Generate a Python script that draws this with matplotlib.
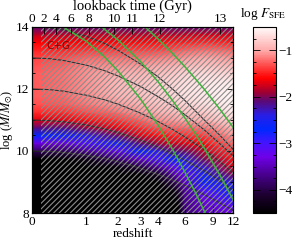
import numpy as np
import matplotlib
matplotlib.use('Agg')
import matplotlib.pyplot as plt
from matplotlib.colors import LinearSegmentedColormap
from matplotlib.patches import Rectangle
from matplotlib.ticker import MultipleLocator, NullLocator

plt.rcParams['font.family'] = 'Liberation Serif'
plt.rcParams['mathtext.fontset'] = 'stix'
plt.rcParams['font.size'] = 9.5
plt.rcParams['hatch.linewidth'] = 0.8

# grid of log F_SFE: one column per redshift, rows logM 8 -> 14
z_nodes = [0, 0.5, 1, 2, 3, 4, 5, 5.5, 6, 8, 12]
logm_nodes = [8.0, 8.25, 8.5, 8.75, 9.0, 9.25, 9.5, 9.75, 10.0, 10.25, 10.5, 10.75,
              11.0, 11.25, 11.5, 11.75, 12.0, 12.25, 12.5, 12.75, 13.0, 13.25, 13.5, 13.75, 14.0]

sfe_z0 = [-4.5, -4.5, -4.5, -4.5, -4.5, -4.5, -4.5, -4.5, -3.9, -3.3, -2.7, -2.1,
          -1.7, -1.45, -1.32, -1.28, -1.28, -1.28, -1.28, -1.3, -1.35, -1.47, -1.6, -1.8, -2.1]
sfe_z05 = [-4.5, -4.5, -4.5, -4.5, -4.5, -4.5, -4.5, -4.5, -3.95, -3.35, -2.75, -2.15,
           -1.7, -1.43, -1.27, -1.22, -1.2, -1.2, -1.2, -1.24, -1.32, -1.46, -1.6, -1.8, -2.1]
sfe_z1 = [-4.5, -4.5, -4.5, -4.5, -4.5, -4.5, -4.5, -4.35, -3.65, -3.05, -2.45, -1.95,
          -1.55, -1.32, -1.18, -1.12, -1.08, -1.08, -1.08, -1.12, -1.22, -1.4, -1.6, -1.8, -2.1]
sfe_z2 = [-4.5, -4.5, -4.5, -4.5, -4.5, -4.5, -4.4, -3.8, -3.2, -2.6, -2.05, -1.65,
          -1.4, -1.2, -1.05, -0.95, -0.92, -0.92, -0.98, -1.08, -1.2, -1.38, -1.58, -1.8, -2.1]
sfe_z3 = [-4.5, -4.5, -4.5, -4.5, -4.5, -4.5, -4.0, -3.35, -2.7, -2.1, -1.7, -1.45,
          -1.25, -1.05, -0.95, -0.88, -0.85, -0.87, -0.93, -1.05, -1.2, -1.37, -1.57, -1.8, -2.1]
sfe_z4 = [-4.5, -4.5, -4.5, -4.5, -4.5, -4.2, -3.6, -3.0, -2.4, -1.9, -1.55, -1.3,
          -1.1, -0.95, -0.85, -0.78, -0.76, -0.78, -0.88, -1.0, -1.15, -1.35, -1.55, -1.8, -2.1]
sfe_z5 = [-4.5, -4.5, -4.5, -4.4, -4.0, -3.6, -3.2, -2.7, -2.15, -1.75, -1.5, -1.25,
          -1.05, -0.9, -0.8, -0.74, -0.72, -0.75, -0.82, -0.95, -1.1, -1.3, -1.52, -1.8, -2.1]
sfe_z55 = [-4.5, -4.45, -4.3, -4.05, -3.75, -3.4, -3.0, -2.55, -2.1, -1.72, -1.47, -1.24,
           -1.02, -0.87, -0.77, -0.7, -0.68, -0.71, -0.78, -0.92, -1.08, -1.28, -1.51, -1.8, -2.1]
sfe_z6 = [-3.8, -3.75, -3.7, -3.6, -3.45, -3.2, -2.85, -2.45, -2.05, -1.7, -1.45, -1.22,
          -1.0, -0.85, -0.74, -0.67, -0.65, -0.68, -0.75, -0.9, -1.05, -1.25, -1.5, -1.78, -2.1]
sfe_z8 = [-3.5, -3.4, -3.25, -3.0, -2.75, -2.55, -2.3, -2.0, -1.78, -1.58, -1.38, -1.18,
          -0.95, -0.8, -0.68, -0.61, -0.6, -0.62, -0.7, -0.85, -1.0, -1.2, -1.45, -1.75, -2.1]
sfe_z12 = [-3.3, -3.1, -2.85, -2.6, -2.35, -2.0, -1.7, -1.55, -1.4, -1.2, -1.05, -0.9,
           -0.75, -0.62, -0.55, -0.52, -0.55, -0.62, -0.75, -0.9, -1.05, -1.25, -1.5, -1.75, -2.1]

# halo growth tracks (black)
track_z = [0, 0.25, 0.5, 1, 1.5, 2, 3, 4, 5, 6, 8, 10, 12]
track_14 = [14.0, 13.97, 13.9, 13.7, 13.48, 13.25, 12.8, 12.39, 12.0, 11.64, 11.0, 10.5, 10.05]
track_13 = [13.0, 12.98, 12.92, 12.77, 12.6, 12.42, 12.08, 11.75, 11.46, 11.18, 10.68, 10.23, 9.84]
track_12 = [12.0, 11.98, 11.93, 11.8, 11.66, 11.51, 11.22, 10.95, 10.7, 10.46, 10.04, 9.65, 9.28]
track_11 = [11.0, 10.98, 10.94, 10.84, 10.72, 10.59, 10.35, 10.12, 9.91, 9.71, 9.36, 9.04, 8.72]
track_10 = [10.0, 9.99, 9.95, 9.86, 9.76, 9.65, 9.44, 9.24, 9.06, 8.89, 8.59, 8.32, 8.08]

# green curves
green1_z = [0.49, 1, 1.5, 2, 3, 4, 5, 6, 7, 8.1]
green1_m = [14.0, 13.54, 13.06, 12.58, 11.67, 10.83, 10.05, 9.34, 8.68, 8.0]
green2_z = [1.43, 2, 3, 4, 5, 6, 7, 8, 10, 12]
green2_m = [14.0, 13.58, 12.88, 12.23, 11.63, 11.08, 10.57, 10.09, 9.21, 8.43]
green3_z = [3.23, 4, 5, 6, 7, 8, 10, 12]
green3_m = [14.0, 13.61, 13.15, 12.73, 12.34, 11.99, 11.34, 10.76]

z_ticks = [0, 1, 2, 3, 4, 6, 9, 12]
lookback_ticks = [0, 2, 4, 6, 8, 10, 11, 12, 13]


def fwd(z):
    return np.log10(1 + np.clip(z, -0.999, None))


def inv(x):
    return 10 ** np.asarray(x) - 1


# lookback time, H0 = 70, Om = 0.3, OL = 0.7
zz = np.linspace(0, 40, 8001)
integrand = 1 / ((1 + zz) * np.sqrt(0.3 * (1 + zz) ** 3 + 0.7))
tl = 977.8 / 70 * np.concatenate([[0], np.cumsum(0.5 * (integrand[1:] + integrand[:-1]) * np.diff(zz))])
lookback_z = np.interp(lookback_ticks, tl, zz)

cmap = LinearSegmentedColormap.from_list('sfe', [
    (0.0, (0, 0, 0)),
    (0.1, (30 / 255, 0, 50 / 255)),
    (0.225, (80 / 255, 0, 160 / 255)),
    (0.3, (110 / 255, 0, 230 / 255)),
    (0.375, (70 / 255, 20 / 255, 1)),
    (0.45, (0, 40 / 255, 1)),
    (0.525, (40 / 255, 30 / 255, 230 / 255)),
    (0.6, (90 / 255, 10 / 255, 120 / 255)),
    (0.65, (160 / 255, 0, 50 / 255)),
    (0.725, (1, 0, 0)),
    (0.8, (1, 80 / 255, 80 / 255)),
    (0.875, (1, 170 / 255, 170 / 255)),
    (1.0, (1, 250 / 255, 250 / 255)),
])

sfe = np.array([sfe_z0, sfe_z05, sfe_z1, sfe_z2, sfe_z3, sfe_z4, sfe_z5,
                sfe_z55, sfe_z6, sfe_z8, sfe_z12]).T
Z, M = np.meshgrid(z_nodes, logm_nodes)

fig = plt.figure(figsize=(3.04, 2.40), dpi=100)
ax = fig.add_axes([0.105, 0.1125, 0.662, 0.775])
cax = fig.add_axes([0.832, 0.1125, 0.076, 0.775])

ax.set_xscale('function', functions=(fwd, inv))
mesh = ax.pcolormesh(Z, M, sfe, shading='gouraud', cmap=cmap, vmin=-4.5, vmax=-0.5, zorder=1)

for tr in [track_14, track_13, track_12, track_11, track_10]:
    ax.plot(track_z, tr, color='#303030', lw=0.8, zorder=2)

ax.add_patch(Rectangle((0.12, 8), 12 - 0.12, 6, fill=False, hatch='//////',
                       edgecolor=(0.55, 0.55, 0.55), lw=0, zorder=3))

ax.plot(green1_z, green1_m, color='#3cb43c', lw=1.1, zorder=4)
ax.plot(green2_z, green2_m, color='#3cb43c', lw=1.1, zorder=4)
ax.plot(green3_z, green3_m, color='#3cb43c', lw=1.1, zorder=4)

ax.text(0.2, 13.39, 'C+G', color='#8b0000', fontsize=7.5, family='DejaVu Sans', va='center', zorder=5)

ax.set_xlim(0, 12)
ax.set_ylim(8, 14)
ax.set_xticks(z_ticks)
ax.set_xticklabels([str(t) for t in z_ticks])
ax.xaxis.set_minor_locator(NullLocator())
ax.set_yticks([8, 10, 12, 14])
ax.yaxis.set_minor_locator(MultipleLocator(0.5))
ax.tick_params(which='both', direction='in', top=False, right=True, width=0.6, pad=2)
ax.tick_params(which='major', length=5)
ax.tick_params(which='minor', length=2.5)
ax.set_xlabel('redshift', labelpad=0)
ax.set_ylabel(r'log ($M/M_{\odot}$)', fontsize=9)
ax.yaxis.set_label_coords(-0.082, 0.5)

ax2 = ax.twiny()
ax2.set_xscale('function', functions=(fwd, inv))
ax2.set_xlim(0, 12)
ax2.set_xticks(lookback_z)
ax2.set_xticklabels([str(t) for t in lookback_ticks])
ax2.xaxis.set_minor_locator(NullLocator())
ax2.tick_params(direction='in', length=5, width=0.6, pad=1.5)
ax2.set_xlabel('lookback time (Gyr)', labelpad=2, fontsize=10.5)

cb = fig.colorbar(mesh, cax=cax)
cb.set_ticks([-1, -2, -3, -4])
cb.ax.yaxis.set_minor_locator(MultipleLocator(0.25))
cax.tick_params(which='both', direction='in', left=True, right=True, width=0.6, pad=2)
cax.tick_params(which='major', length=5)
cax.tick_params(which='minor', length=2.5)
cb.outline.set_linewidth(0.8)
fig.text(0.866, 0.908, r'log $F_{\rm SFE}$', ha='center', va='bottom', fontsize=9.5)

fig.savefig('out.png', dpi=100)
